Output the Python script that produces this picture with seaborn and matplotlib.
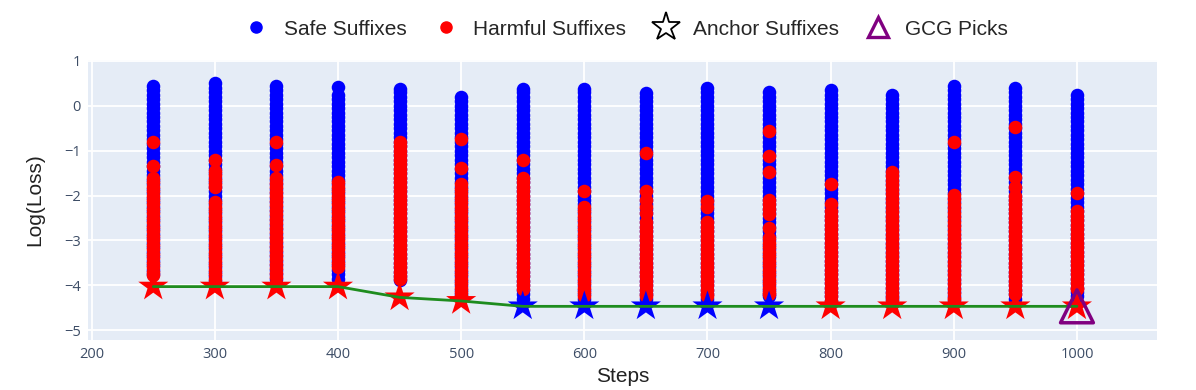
import pandas as pd
import matplotlib.pyplot as plt
import seaborn as sns
from matplotlib.lines import Line2D

steps = [250, 300, 350, 400, 450, 500, 550, 600, 650, 700, 750, 800, 850, 900, 950, 1000]

# log-loss of the safe suffixes at each step
safe_loss = [
    # 250
    [0.45, 0.35, 0.25, 0.15, 0.05, -0.05, -0.15, -0.25, -0.35, -0.45, -0.55, -0.65, -0.75, -0.85, -0.95,
     -1.05, -1.15, -1.25, -1.35, -1.45, -1.55, -1.65, -1.75, -1.85, -1.95, -2.05, -2.15, -2.25, -2.35,
     -2.45, -2.55, -2.65, -2.75, -2.85, -2.95, -3.05, -3.15, -3.25, -3.35, -3.45, -3.55, -3.65, -3.75],
    # 300
    [0.5, 0.4, 0.3, 0.2, 0.1, 0.0, -0.1, -0.2, -0.3, -0.4, -0.5, -0.6, -0.7, -0.8, -0.9, -1.0, -1.1,
     -1.2, -1.3, -1.4, -1.5, -1.6, -1.7, -1.8, -1.9, -2.0, -2.1, -2.2, -2.3, -2.4, -2.5, -2.6, -2.7,
     -2.8, -2.9, -3.0, -3.1, -3.2, -3.3, -3.4, -3.5, -3.6, -3.7, -3.8, -3.9],
    # 350
    [0.45, 0.35, 0.25, 0.15, 0.05, -0.05, -0.15, -0.25, -0.35, -0.45, -0.55, -0.65, -0.75, -0.85, -0.95,
     -1.05, -1.15, -1.25, -1.35, -1.45, -1.55, -1.65, -1.75, -1.85, -1.95, -2.05, -2.15, -2.25, -2.35,
     -2.45, -2.55, -2.65, -2.75, -2.85, -2.95, -3.05, -3.15, -3.25, -3.35, -3.45, -3.55, -3.65, -3.75,
     -3.85, -3.95],
    # 400
    [0.42, 0.25, 0.15, 0.05, -0.05, -0.15, -0.25, -0.35, -0.45, -0.55, -0.65, -0.75, -0.85, -0.95,
     -1.05, -1.15, -1.25, -1.35, -1.45, -1.55, -1.65, -1.75, -1.85, -1.95, -2.05, -2.15, -2.25, -2.35,
     -2.45, -2.55, -2.65, -2.75, -2.85, -2.95, -3.05, -3.15, -3.25, -3.35, -3.45, -3.55, -3.65, -3.75,
     -3.85],
    # 450
    [0.38, 0.3, 0.2, 0.1, 0.0, -0.1, -0.2, -0.3, -0.4, -0.5, -0.6, -0.7, -0.8, -0.9, -1.0, -1.1,
     -1.2, -1.3, -1.4, -1.5, -1.6, -1.7, -1.8, -1.9, -2.0, -2.1, -2.2, -2.3, -2.4, -2.5, -2.6, -2.7,
     -2.8, -2.9, -3.0, -3.1, -3.2, -3.3, -3.4, -3.5, -3.6, -3.7, -3.8, -3.88],
    # 500
    [0.2, 0.1, 0.0, -0.1, -0.2, -0.3, -0.4, -0.5, -0.6, -0.7, -0.8, -0.9, -1.0, -1.1,
     -1.2, -1.3, -1.4, -1.5, -1.6, -1.7, -1.8, -1.9, -2.0, -2.1, -2.2, -2.3, -2.4, -2.5, -2.6, -2.7,
     -2.8, -2.9, -3.0, -3.1, -3.2, -3.3, -3.4, -3.5, -3.6, -3.7, -3.8, -3.9, -4.0, -4.1, -4.2],
    # 550
    [0.38, 0.3, 0.2, 0.1, 0.0, -0.1, -0.2, -0.3, -0.4, -0.5, -0.6, -0.7, -0.8, -0.9, -1.0, -1.1,
     -1.2, -1.3, -1.4, -1.5, -1.6, -1.7, -1.8, -1.9, -2.0, -2.1, -2.2, -2.3, -2.4, -2.5, -2.6, -2.7,
     -2.8, -2.9, -3.0, -3.1, -3.2, -3.3, -3.4, -3.5, -3.6, -3.7, -3.8, -3.9, -4.0, -4.1, -4.2, -4.3],
    # 600
    [0.38, 0.3, 0.2, 0.1, 0.0, -0.1, -0.2, -0.3, -0.4, -0.5, -0.6, -0.7, -0.8, -0.9, -1.0, -1.1,
     -1.2, -1.3, -1.4, -1.5, -1.6, -1.7, -1.8, -1.9, -2.0, -2.1, -2.2, -2.3, -2.4, -2.5, -2.6, -2.7,
     -2.8, -2.9, -3.0, -3.1, -3.2, -3.3, -3.4, -3.5, -3.6, -3.7, -3.8, -3.9, -4.0, -4.1, -4.2, -4.3],
    # 650
    [0.28, 0.2, 0.1, 0.0, -0.1, -0.2, -0.3, -0.4, -0.5, -0.6, -0.7, -0.8, -0.9, -1.0, -1.1,
     -1.2, -1.3, -1.4, -1.5, -1.6, -1.7, -1.8, -1.9, -2.0, -2.1, -2.2, -2.3, -2.4, -2.5, -2.6, -2.7,
     -2.8, -2.9, -3.0, -3.1, -3.2, -3.3, -3.4, -3.5, -3.6, -3.7, -3.8, -3.9, -4.0, -4.1, -4.2, -4.3],
    # 700
    [0.4, 0.3, 0.2, 0.1, 0.0, -0.1, -0.2, -0.3, -0.4, -0.5, -0.6, -0.7, -0.8, -0.9, -1.0, -1.1,
     -1.2, -1.3, -1.4, -1.5, -1.6, -1.7, -1.8, -1.9, -2.0, -2.1, -2.2, -2.3, -2.4, -2.5, -2.6, -2.7,
     -2.8, -2.9, -3.0, -3.1, -3.2, -3.3, -3.4, -3.5, -3.6, -3.7, -3.8, -3.9, -4.0, -4.1, -4.2, -4.3],
    # 750
    [0.3, 0.2, 0.1, 0.0, -0.1, -0.2, -0.3, -0.4, -0.5, -0.6, -0.7, -0.8, -0.9, -1.0, -1.1,
     -1.2, -1.3, -1.4, -1.5, -1.6, -1.7, -1.8, -1.9, -2.0, -2.1, -2.2, -2.3, -2.4, -2.5, -2.6, -2.7,
     -2.8, -2.9, -3.0, -3.1, -3.2, -3.3, -3.4, -3.5, -3.6, -3.7, -3.8, -3.9, -4.0, -4.1, -4.2, -4.25],
    # 800
    [0.35, 0.25, 0.15, 0.05, -0.05, -0.15, -0.25, -0.35, -0.45, -0.55, -0.65, -0.75, -0.85, -0.95,
     -1.05, -1.15, -1.25, -1.35, -1.45, -1.55, -1.65, -1.75, -1.85, -1.95, -2.05, -2.15, -2.25, -2.35,
     -2.45, -2.55, -2.65, -2.75, -2.85, -2.95, -3.05, -3.15, -3.25, -3.35, -3.45, -3.55, -3.65, -3.75,
     -3.85, -3.95, -4.05, -4.15, -4.25, -4.35, -4.4],
    # 850
    [0.25, 0.15, 0.05, -0.05, -0.15, -0.25, -0.35, -0.45, -0.55, -0.65, -0.75, -0.85, -0.95,
     -1.05, -1.15, -1.25, -1.35, -1.45, -1.55, -1.65, -1.75, -1.85, -1.95, -2.05, -2.15, -2.25, -2.35,
     -2.45, -2.55, -2.65, -2.75, -2.85, -2.95, -3.05, -3.15, -3.25, -3.35, -3.45, -3.55, -3.65, -3.75,
     -3.85, -3.95, -4.05, -4.15, -4.25, -4.3],
    # 900
    [0.45, 0.35, 0.25, 0.15, 0.05, -0.05, -0.15, -0.25, -0.35, -0.45, -0.55, -0.65, -0.75, -0.85, -0.95,
     -1.05, -1.15, -1.25, -1.35, -1.45, -1.55, -1.65, -1.75, -1.85, -1.95, -2.05, -2.15, -2.25, -2.35,
     -2.45, -2.55, -2.65, -2.75, -2.85, -2.95, -3.05, -3.15, -3.25, -3.35, -3.45, -3.55, -3.65, -3.75,
     -3.85, -3.95, -4.05, -4.15, -4.25, -4.35],
    # 950
    [0.4, 0.3, 0.2, 0.1, 0.0, -0.1, -0.2, -0.3, -0.4, -0.5, -0.6, -0.7, -0.8, -0.9, -1.0, -1.1,
     -1.2, -1.3, -1.4, -1.5, -1.6, -1.7, -1.8, -1.9, -2.0, -2.1, -2.2, -2.3, -2.4, -2.5, -2.6, -2.7,
     -2.8, -2.9, -3.0, -3.1, -3.2, -3.3, -3.4, -3.5, -3.6, -3.7, -3.8, -3.9, -4.0, -4.1, -4.2, -4.3],
    # 1000
    [0.25, 0.15, 0.05, -0.05, -0.15, -0.25, -0.35, -0.45, -0.55, -0.65, -0.75, -0.85, -0.95,
     -1.05, -1.15, -1.25, -1.35, -1.45, -1.55, -1.65, -1.75, -1.85, -1.95, -2.05, -2.15, -2.25, -2.35,
     -2.45, -2.55, -2.65, -2.75, -2.85, -2.95, -3.05, -3.15, -3.25, -3.35, -3.45, -3.55, -3.65, -3.75,
     -3.85, -3.95, -4.05, -4.15, -4.25],
]

# log-loss of the harmful suffixes at each step
harmful_loss = [
    # 250
    [-0.8, -1.35, -1.6, -1.7, -1.8, -1.9, -2.0, -2.1, -2.2, -2.3, -2.4, -2.5, -2.6, -2.7, -2.8, -2.9,
     -3.0, -3.1, -3.2, -3.3, -3.4, -3.5, -3.6, -3.7, -3.78],
    # 300
    [-1.2, -1.45, -1.55, -1.65, -1.75, -1.82, -2.15, -2.25, -2.35, -2.45, -2.55, -2.65, -2.75, -2.85,
     -2.95, -3.05, -3.15, -3.25, -3.35, -3.45, -3.55, -3.65, -3.75, -3.85, -3.95],
    # 350
    [-0.8, -1.32, -1.62, -1.72, -1.82, -1.92, -2.02, -2.12, -2.22, -2.32, -2.42, -2.52, -2.62, -2.72,
     -2.82, -2.92, -3.02, -3.12, -3.22, -3.32, -3.42, -3.52, -3.62, -3.72, -3.82, -3.95],
    # 400
    [-1.7, -1.8, -1.9, -2.0, -2.1, -2.2, -2.3, -2.4, -2.5, -2.6, -2.7, -2.8, -2.9, -3.0, -3.1, -3.2,
     -3.3, -3.4, -3.5, -3.6],
    # 450
    [-0.8, -0.9, -1.0, -1.1, -1.2, -1.3, -1.4, -1.5, -1.6, -1.7, -1.8, -1.9, -2.0, -2.1, -2.2, -2.3,
     -2.4, -2.5, -2.6, -2.7, -2.8, -2.9, -3.0, -3.1, -3.2, -3.3, -3.4, -3.5, -3.6, -3.7, -3.8, -3.85],
    # 500
    [-0.75, -1.38, -1.75, -1.85, -1.95, -2.05, -2.15, -2.25, -2.35, -2.45, -2.55, -2.65, -2.75, -2.85,
     -2.95, -3.05, -3.15, -3.25, -3.35, -3.45, -3.55, -3.65, -3.75, -3.85, -3.95, -4.05, -4.15, -4.25],
    # 550
    [-1.2, -1.6, -1.7, -1.8, -1.9, -2.0, -2.1, -2.2, -2.3, -2.4, -2.5, -2.6, -2.7, -2.8, -2.9, -3.0,
     -3.1, -3.2, -3.3, -3.4, -3.5, -3.6, -3.7, -3.8, -3.9, -4.0, -4.08],
    # 600
    [-1.9, -2.25, -2.35, -2.45, -2.55, -2.65, -2.75, -2.85, -2.95, -3.05, -3.15, -3.25, -3.35, -3.45,
     -3.55, -3.65, -3.75, -3.85, -3.95, -4.05, -4.15, -4.25],
    # 650
    [-1.05, -1.9, -2.1, -2.25, -2.4, -2.6, -2.7, -2.8, -2.9, -3.0, -3.1, -3.2, -3.3, -3.4, -3.5, -3.6,
     -3.7, -3.8, -3.9, -4.0, -4.1, -4.2, -4.25],
    # 700
    [-2.12, -2.25, -2.6, -2.7, -2.8, -2.9, -3.0, -3.1, -3.2, -3.3, -3.4, -3.5, -3.6, -3.7, -3.8, -3.9,
     -4.0, -4.1, -4.2, -4.25],
    # 750
    [-0.57, -1.12, -1.48, -2.1, -2.2, -2.3, -2.42, -2.72, -2.95, -3.05, -3.15, -3.25, -3.35, -3.45,
     -3.55, -3.65, -3.75, -3.85, -3.95, -4.05, -4.15, -4.2],
    # 800
    [-1.75, -2.2, -2.35, -2.45, -2.55, -2.65, -2.75, -2.85, -2.95, -3.05, -3.15, -3.25, -3.35, -3.45,
     -3.55, -3.65, -3.75, -3.85, -3.95, -4.05, -4.15, -4.25, -4.35, -4.4],
    # 850
    [-1.47, -1.57, -1.67, -1.77, -1.87, -1.97, -2.07, -2.17, -2.27, -2.37, -2.47, -2.57, -2.67, -2.77,
     -2.87, -2.97, -3.07, -3.17, -3.27, -3.37, -3.47, -3.57, -3.67, -3.77, -3.87, -3.97, -4.07, -4.17,
     -4.27, -4.35],
    # 900
    [-0.8, -1.98, -2.08, -2.18, -2.28, -2.38, -2.48, -2.58, -2.68, -2.78, -2.88, -2.98, -3.08, -3.18,
     -3.28, -3.38, -3.48, -3.58, -3.68, -3.78, -3.88, -3.98, -4.08, -4.18, -4.28, -4.3],
    # 950
    [-0.47, -1.58, -1.8, -2.0, -2.1, -2.2, -2.3, -2.4, -2.5, -2.6, -2.7, -2.8, -2.9, -3.0, -3.1, -3.2,
     -3.3, -3.4, -3.5, -3.6, -3.7, -3.8, -3.9, -4.0, -4.1, -4.2],
    # 1000
    [-1.95, -2.35, -2.45, -2.55, -2.65, -2.75, -2.85, -2.95, -3.05, -3.15, -3.25, -3.35, -3.45, -3.55,
     -3.65, -3.75, -3.85, -3.95, -4.05, -4.08],
]

# anchor suffix per step and whether it is harmful
anchor_loss = [-4.03, -4.03, -4.03, -4.03, -4.27, -4.35, -4.47, -4.47,
               -4.47, -4.47, -4.47, -4.47, -4.47, -4.47, -4.47, -4.47]
anchor_harmful = [True, True, True, True, True, True, False, False,
                  False, False, False, True, True, True, True, True]

gcg_step = [1000]
gcg_loss = [-4.47]

safe_df = pd.DataFrame([(s, v) for s, vals in zip(steps, safe_loss) for v in vals],
                       columns=["Steps", "Log(Loss)"])
harm_df = pd.DataFrame([(s, v) for s, vals in zip(steps, harmful_loss) for v in vals],
                       columns=["Steps", "Log(Loss)"])
anchor_df = pd.DataFrame({"Steps": steps, "Log(Loss)": anchor_loss, "harmful": anchor_harmful})

sns.set_theme(style="darkgrid")
plt.rcParams["font.family"] = ["Liberation Sans", "DejaVu Sans"]

fig = plt.figure(figsize=(11.96, 3.9), dpi=100)
ax = fig.add_axes([88 / 1196, 50 / 390, (1157 - 88) / 1196, 280 / 390])
ax.set_facecolor("#E5ECF6")

sns.scatterplot(data=safe_df, x="Steps", y="Log(Loss)", color="#0000FF", s=95,
                linewidth=0, ax=ax, zorder=2)
sns.scatterplot(data=harm_df, x="Steps", y="Log(Loss)", color="#FF0000", s=95,
                linewidth=0, ax=ax, zorder=3)
sns.scatterplot(data=anchor_df, x="Steps", y="Log(Loss)", hue="harmful",
                palette={True: "#FF0000", False: "#0000FF"}, marker="*", s=520,
                linewidth=0, ax=ax, zorder=4, legend=False)
sns.lineplot(data=anchor_df, x="Steps", y="Log(Loss)", color="#1e8c1e", lw=2,
             ax=ax, zorder=5)
ax.scatter(gcg_step, gcg_loss, marker="^", s=560, facecolors="none",
           edgecolors="#800080", linewidths=2.5, zorder=6)

ax.set_xlim(197, 1065)
ax.set_ylim(-5.22, 1.02)
ax.set_xticks(range(200, 1001, 100))
ax.set_yticks(range(-5, 2))
ax.set_yticklabels(["\u22125", "\u22124", "\u22123", "\u22122", "\u22121", "0", "1"])
ax.grid(color="white", lw=1.3)
for sp in ax.spines.values():
    sp.set_visible(False)
ax.tick_params(axis="both", length=0, labelsize=10.5, labelcolor="#3d4d66", pad=5)
for lab in ax.get_xticklabels() + ax.get_yticklabels():
    lab.set_family("Open Sans")
ax.set_xlabel("Steps", fontsize=15, color="#222222", labelpad=4)
ax.set_ylabel("Log(Loss)", fontsize=15, color="#222222", labelpad=14)

handles = [
    Line2D([], [], marker="o", ls="", color="#0000FF", markersize=8),
    Line2D([], [], marker="o", ls="", color="#FF0000", markersize=8),
    Line2D([], [], marker="*", ls="", markerfacecolor="white", markeredgecolor="black",
           markeredgewidth=1.3, markersize=21),
    Line2D([], [], marker="^", ls="", markerfacecolor="none", markeredgecolor="#800080",
           markeredgewidth=2.4, markersize=14),
]
labels = ["Safe Suffixes", "Harmful Suffixes", "Anchor Suffixes", "GCG Picks"]
fig.legend(handles, labels, loc="center", bbox_to_anchor=(0.52, 0.925), ncol=4,
           frameon=False, fontsize=15, handletextpad=0.3, columnspacing=0.9)

fig.savefig("out.png", dpi=100)
